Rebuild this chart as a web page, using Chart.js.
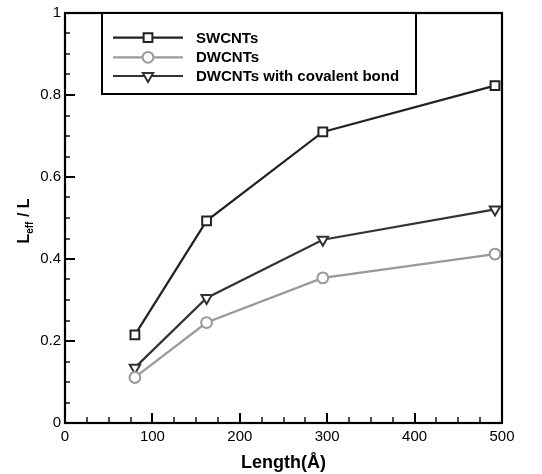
<!DOCTYPE html>
<html><head><meta charset="utf-8">
<script src="https://cdn.jsdelivr.net/npm/chart.js@4/dist/chart.umd.min.js"></script>
<style>html,body{margin:0;padding:0;background:#fff}#wrap{width:542px;height:474px}</style>
</head><body><div id="wrap"><canvas id="c" width="542" height="474"></canvas></div>
<script>
const lengths = [80, 162, 295, 492];
const swcnt = [0.215, 0.493, 0.710, 0.823];
const dwcnt = [0.111, 0.245, 0.354, 0.412];
const dwcntBond = [0.135, 0.305, 0.447, 0.521];
const seriesNames = ['SWCNTs', 'DWCNTs', 'DWCNTs with covalent bond'];
const xMajorStep = 100, xMinorStep = 25;
const yMajorStep = 0.2, yMinorStep = 0.05;
const xTitle = 'Length(Å)';
const yTitleMain = 'L', yTitleSub = 'eff', yTitleTail = ' / L';

const FONT = '"Liberation Sans", Arial, sans-serif';
const toPts = ys => lengths.map((x, i) => ({x: x, y: ys[i]}));

const styles = [
  {color: '#222222', pointStyle: 'rect', radius: 6.2, rotation: 0},
  {color: '#999999', pointStyle: 'circle', radius: 5.4, rotation: 0},
  {color: '#333333', pointStyle: 'triangle', radius: 6, rotation: 180}
];
const seriesData = [swcnt, dwcnt, dwcntBond];

const datasets = seriesData.map((d, i) => ({
  label: seriesNames[i],
  data: toPts(d),
  borderColor: styles[i].color,
  borderWidth: 2.2,
  pointStyle: styles[i].pointStyle,
  pointRadius: styles[i].radius,
  pointRotation: styles[i].rotation,
  pointBackgroundColor: '#ffffff',
  pointBorderColor: styles[i].color,
  pointBorderWidth: 2,
  tension: 0,
  clip: false
}));
const order = [1, 2, 0];
const orderedDatasets = order.map(i => datasets[i]);

const framePlugin = {
  id: 'frame',
  afterDatasetsDraw(chart) {
    const ctx = chart.ctx, a = chart.chartArea;
    const xs = chart.scales.x, ys = chart.scales.y;
    ctx.save();
    ctx.strokeStyle = '#000';
    for (let v = 0; v <= 500 + 1e-9; v += xMinorStep) {
      const major = Math.abs(v / xMajorStep - Math.round(v / xMajorStep)) < 1e-9;
      const px = Math.round(xs.getPixelForValue(v));
      ctx.lineWidth = major ? 2 : 1.4;
      ctx.beginPath();
      ctx.moveTo(px, a.bottom);
      ctx.lineTo(px, a.bottom - (major ? 10 : 6));
      ctx.stroke();
    }
    for (let k = 0; k <= 20; k++) {
      const v = k * yMinorStep;
      const major = k % 4 === 0;
      const py = Math.round(ys.getPixelForValue(v));
      ctx.lineWidth = major ? 2 : 1.4;
      ctx.beginPath();
      ctx.moveTo(a.left, py);
      ctx.lineTo(a.left + (major ? 10 : 5), py);
      ctx.stroke();
    }
    ctx.lineWidth = 2.2;
    ctx.strokeRect(a.left, a.top, a.right - a.left, a.bottom - a.top);

    ctx.save();
    ctx.translate(29, (a.top + a.bottom) / 2 + 3);
    ctx.rotate(-Math.PI / 2);
    ctx.fillStyle = '#000';
    ctx.textBaseline = 'alphabetic';
    const fMain = 'bold 16px ' + FONT, fSub = 'bold 10px ' + FONT;
    ctx.font = fMain; const w1 = ctx.measureText(yTitleMain).width; const w3 = ctx.measureText(yTitleTail).width;
    ctx.font = fSub; const w2 = ctx.measureText(yTitleSub).width;
    let x0 = -(w1 + w2 + w3) / 2;
    ctx.font = fMain; ctx.textAlign = 'left';
    ctx.fillText(yTitleMain, x0, 0);
    ctx.font = fSub; ctx.fillText(yTitleSub, x0 + w1, 4);
    ctx.font = fMain; ctx.fillText(yTitleTail, x0 + w1 + w2, 0);
    ctx.restore();

    const lx = 102, lr = 416, lb = 94;
    ctx.fillStyle = '#fff';
    ctx.fillRect(lx, a.top, lr - lx, lb - a.top);
    ctx.lineWidth = 2;
    ctx.strokeStyle = '#000';
    ctx.strokeRect(lx, a.top, lr - lx, lb - a.top);
    const rowsY = [37.7, 57.3, 76];
    seriesNames.forEach((name, i) => {
      const y = rowsY[i], st = styles[i];
      ctx.strokeStyle = st.color;
      ctx.lineWidth = 2.2;
      ctx.beginPath(); ctx.moveTo(113, y); ctx.lineTo(183, y); ctx.stroke();
      ctx.fillStyle = '#fff';
      ctx.lineWidth = 2;
      Chart.helpers.drawPoint(ctx, {pointStyle: st.pointStyle, radius: st.radius, rotation: st.rotation, borderWidth: 2}, 148, y);
      ctx.fillStyle = '#000';
      ctx.font = 'bold 15px ' + FONT;
      ctx.textAlign = 'left';
      ctx.textBaseline = 'middle';
      ctx.fillText(name, 196, y + 1);
    });
    ctx.restore();
  }
};

new Chart(document.getElementById('c'), {
  type: 'line',
  data: {datasets: orderedDatasets},
  options: {
    responsive: false,
    animation: false,
    devicePixelRatio: 1,
    layout: {padding: {top: 12, right: 40, left: 0, bottom: 0}},
    plugins: {legend: {display: false}, tooltip: {enabled: false}},
    scales: {
      x: {
        type: 'linear', min: 0, max: 500,
        ticks: {stepSize: xMajorStep, color: '#000', font: {family: FONT, size: 15}, padding: 5, maxRotation: 0},
        grid: {drawOnChartArea: false, drawTicks: false},
        border: {display: true, color: '#000', width: 2},
        title: {display: true, text: xTitle, color: '#000', font: {family: FONT, size: 18, weight: 'bold'}, padding: {top: 4, bottom: 0}},
        afterFit(s) { s.height = 51; }
      },
      y: {
        type: 'linear', min: 0, max: 1,
        ticks: {stepSize: yMajorStep, color: '#000', font: {family: FONT, size: 15}, padding: 4,
          callback: v => String(Math.round(v * 100) / 100)},
        grid: {drawOnChartArea: false, drawTicks: false},
        border: {display: true, color: '#000', width: 2},
        afterFit(s) { s.width = 65; }
      }
    }
  },
  plugins: [framePlugin]
});
</script>
</body></html>
